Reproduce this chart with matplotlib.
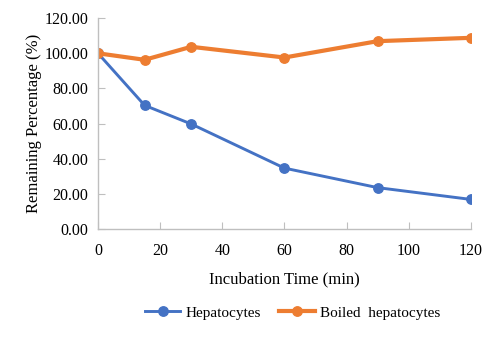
import matplotlib
matplotlib.use("Agg")
import matplotlib.pyplot as plt

time_min = [0, 15, 30, 60, 90, 120]
hepatocytes = [100.0, 70.4, 59.8, 34.7, 23.6, 16.9]
boiled = [100.0, 96.3, 103.7, 97.6, 106.9, 108.8]
x_ticks = [0, 20, 40, 60, 80, 100, 120]
y_ticks = [0, 20, 40, 60, 80, 100, 120]

plt.rcParams['font.family'] = ['Liberation Serif', 'DejaVu Serif']
fig = plt.figure(figsize=(4.91, 3.42), dpi=100)
ax = fig.add_axes([0.1996, 0.330, 0.7594, 0.617])

ax.plot(time_min, hepatocytes, color='#4472C4', lw=2.1, marker='o', ms=6.8, label='Hepatocytes')
ax.plot(time_min, boiled, color='#ED7D31', lw=3.0, marker='o', ms=6.8, label='Boiled  hepatocytes')

ax.set_xlim(0, 120)
ax.set_ylim(0, 120)
ax.set_xticks(x_ticks)
ax.set_yticks(y_ticks)
ax.set_yticklabels([f"{v:.2f}" for v in y_ticks])
for s in ['top', 'right']:
    ax.spines[s].set_visible(False)
for s in ['left', 'bottom']:
    ax.spines[s].set_color('#BFBFBF')
    ax.spines[s].set_linewidth(1.0)
ax.tick_params(direction='in', length=5, color='#BFBFBF', labelsize=11.5)
ax.tick_params(axis='x', pad=10)
ax.tick_params(axis='y', pad=7)
for lab in ax.get_xticklabels() + ax.get_yticklabels():
    lab.set_clip_on(False)

ax.set_xlabel('Incubation Time (min)', fontsize=12, labelpad=9)
ax.set_ylabel('Remaining Percentage (%)', fontsize=12, labelpad=2)

fig.legend(loc='center', bbox_to_anchor=(0.596, 0.085), ncol=2, frameon=False,
           fontsize=11, handlelength=2.3, handletextpad=0.35, columnspacing=1.2)

fig.savefig('out.png', dpi=100)
